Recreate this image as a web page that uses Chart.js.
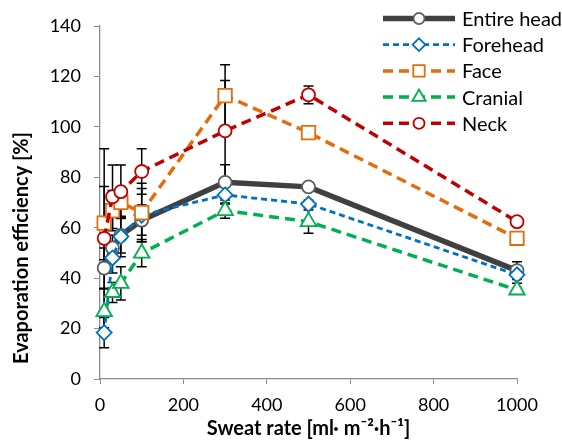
<!DOCTYPE html>
<html>
<head>
<meta charset="utf-8">
<script src="https://cdn.jsdelivr.net/npm/chart.js@4.4.0/dist/chart.umd.min.js"></script>
<style>
  html, body { margin: 0; padding: 0; background: #fff; }
</style>
</head>
<body>
<canvas id="myChart" width="562" height="441"></canvas>
<script>
// Sweat rates the head was tested at [ml m-2 h-1]
let sweatRates = [10, 30, 50, 100, 300, 500, 1000];

// Mean evaporation efficiency [%] for each region
let entireHead = [44, 52, 57, 63, 78, 76.2, 43];
let forehead   = [18.4, 48, 56.5, 65, 73, 69.4, 41.3];
let face       = [61.8, 66.8, 70, 66, 112.4, 97.7, 55.8];
let cranial    = [26.7, 34.3, 37.9, 49.9, 66.8, 62.4, 35.3];
let neck       = [55.8, 72.3, 74.3, 82.3, 98.4, 112.7, 62.4];

// Error bars (+/- SD), 0 = no bar
let entireHeadErr = [8, 5, 7, 6, 7, 1, 3.5];
let foreheadErr   = [6, 6, 8, 10.6, 3.6, 1.5, 3.3];
let faceErr       = [14.5, 8, 6, 11.6, 12.2, 1, 0];
let cranialErr    = [9, 4, 6.6, 5.4, 3, 4.6, 0];
let neckErr       = [35.5, 12.6, 10.6, 9, 20, 3.5, 0];

let seriesNames = ['Entire head', 'Forehead', 'Face', 'Cranial', 'Neck'];
let xTicks = [0, 200, 400, 600, 800, 1000];
let yTicks = [0, 20, 40, 60, 80, 100, 120, 140];
let yTitle = 'Evaporation efficiency [%]';
let xTitle = 'Sweat rate [ml\u00b7 m\u207b\u00b2\u00b7h\u207b\u00b9]';

let FONT = 'Lato, "Open Sans", sans-serif';

function toPoints(values) {
    return values.map(function (v, i) { return {x: sweatRates[i], y: v}; });
}

// line / marker look for each series
let looks = [
    {color: '#404040', marker: '#5f5f5f', width: 5.5, dash: [], style: 'circle', radius: 6.5},
    {color: '#0070C0', marker: '#0070C0', width: 2.8, dash: [6, 4], style: 'rectRot', radius: 7.5},
    {color: '#E46C0A', marker: '#E46C0A', width: 3.5, dash: [10, 6], style: 'rect', radius: 9.5},
    {color: '#00B050', marker: '#00B050', width: 3.5, dash: [10, 6], style: 'triangle', radius: 9},
    {color: '#C00000', marker: '#C00000', width: 3.5, dash: [10, 6], style: 'circle', radius: 6.5}
];
let allValues = [entireHead, forehead, face, cranial, neck];
let allErrors = [entireHeadErr, foreheadErr, faceErr, cranialErr, neckErr];

let datasets = seriesNames.map(function (name, i) {
    let lk = looks[i];
    return {
        label: name,
        data: toPoints(allValues[i]),
        showLine: true,
        clip: false,
        borderColor: lk.color,
        borderWidth: lk.width,
        borderDash: lk.dash,
        borderCapStyle: 'butt',
        tension: 0,
        pointStyle: lk.style,
        pointRadius: lk.radius,
        pointHoverRadius: lk.radius,
        pointBackgroundColor: '#ffffff',
        pointBorderColor: lk.marker,
        pointBorderWidth: 1.8,
        order: 10 - i
    };
});

// error bars, drawn under the lines and markers
let errorBars = {
    id: 'errorBars',
    beforeDatasetsDraw: function (chart) {
        let ctx = chart.ctx;
        let xs = chart.scales.x, ys = chart.scales.y;
        ctx.save();
        ctx.strokeStyle = '#000';
        ctx.lineWidth = 1.5;
        ctx.setLineDash([]);
        allValues.forEach(function (vals, i) {
            vals.forEach(function (v, j) {
                let e = allErrors[i][j];
                if (!e) return;
                let px = xs.getPixelForValue(sweatRates[j]);
                let top = ys.getPixelForValue(v + e);
                let bot = ys.getPixelForValue(v - e);
                ctx.beginPath();
                ctx.moveTo(px, top); ctx.lineTo(px, bot);
                ctx.moveTo(px - 5, top); ctx.lineTo(px + 5, top);
                ctx.moveTo(px - 5, bot); ctx.lineTo(px + 5, bot);
                ctx.stroke();
            });
        });
        ctx.restore();
    }
};

// Excel style legend: line - marker - line, then the name
// plus the y title, which sits a bit below the middle of the axis
let sideLegend = {
    id: 'sideLegend',
    afterDraw: function (chart) {
        let ctx = chart.ctx;
        ctx.save();
        seriesNames.forEach(function (name, i) {
            let lk = looks[i];
            let y = 18.5 + i * 26.2;
            ctx.beginPath();
            ctx.setLineDash(lk.dash);
            ctx.lineCap = 'butt';
            ctx.lineWidth = lk.width;
            ctx.strokeStyle = lk.color;
            ctx.moveTo(383, y); ctx.lineTo(455, y);
            ctx.stroke();
            ctx.setLineDash([]);
            ctx.fillStyle = '#ffffff';
            ctx.strokeStyle = lk.marker;
            ctx.lineWidth = 1.8;
            Chart.helpers.drawPoint(ctx, {pointStyle: lk.style, radius: lk.radius * 0.85, rotation: 0, borderWidth: 1.8}, 419, y);
            ctx.fillStyle = '#000';
            ctx.font = '20px ' + FONT;
            ctx.textBaseline = 'middle';
            ctx.textAlign = 'left';
            ctx.fillText(name, 462, y + 1);
        });

        ctx.translate(22, 248);
        ctx.rotate(-Math.PI / 2);
        ctx.fillStyle = '#000';
        ctx.font = 'bold 20px ' + FONT;
        ctx.textAlign = 'center';
        ctx.textBaseline = 'middle';
        ctx.fillText(yTitle, 0, 0);
        ctx.restore();
    }
};

var ctx = document.getElementById('myChart').getContext('2d');
var myChart = new Chart(ctx, {
    type: 'scatter',
    data: { datasets: datasets },
    plugins: [errorBars, sideLegend],
    options: {
        responsive: false,
        animation: false,
        layout: { padding: { left: 0, right: 45, top: 26, bottom: 0 } },
        plugins: {
            legend: { display: false },
            tooltip: { enabled: false }
        },
        scales: {
            x: {
                type: 'linear',
                min: 0, max: 1000,
                afterFit: function (s) { s.height = 62; },
                afterBuildTicks: function (s) { s.ticks = xTicks.map(function (v) { return {value: v}; }); },
                border: { color: '#8c8c8c', width: 1.3 },
                grid: { display: true, drawOnChartArea: false, drawTicks: true, tickLength: 5, color: '#8c8c8c' },
                ticks: {
                    color: '#000', padding: 10, maxRotation: 0,
                    font: { family: FONT, size: 18 },
                    callback: function (v) { return String(v); }
                },
                title: {
                    display: true,
                    text: xTitle,
                    color: '#000',
                    padding: { top: 0, bottom: 0 },
                    font: { family: FONT, size: 20, weight: 'bold' }
                }
            },
            y: {
                min: 0, max: 140,
                afterFit: function (s) { s.width = 100; },
                afterBuildTicks: function (s) { s.ticks = yTicks.map(function (v) { return {value: v}; }); },
                border: { color: '#8c8c8c', width: 1.3 },
                grid: { display: true, drawOnChartArea: false, drawTicks: true, tickLength: 6, color: '#8c8c8c' },
                ticks: { color: '#000', padding: 13, font: { family: FONT, size: 18 } }
            }
        }
    }
});
</script>
</body>
</html>
